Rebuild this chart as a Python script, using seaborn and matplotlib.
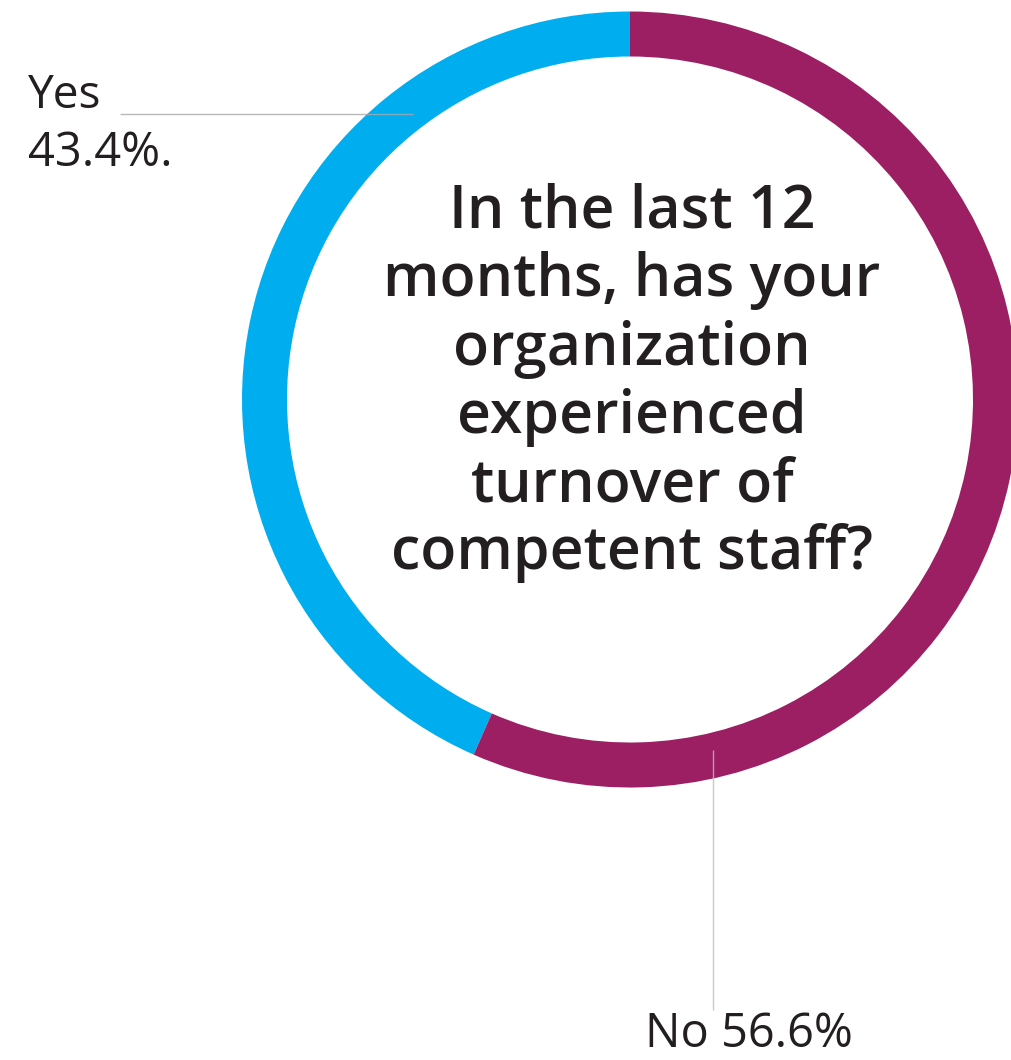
import matplotlib
matplotlib.use("Agg")
import matplotlib.pyplot as plt
import seaborn as sns

# Survey answers
categories = ["Yes", "No"]
shares = [43.4, 56.6]
share_labels = ["43.4%.", "56.6%"]
question_lines = [
    "In the last 12",
    "months, has your",
    "organization",
    "experienced",
    "turnover of",
    "competent staff?",
]

sns.set_theme(style="white")
plt.rcParams["font.family"] = ["Open Sans", "DejaVu Sans"]

palette = ["#00ADEE", "#9B1F62"]
text_color = "#231F20"

W, H, DPI = 1011, 1060, 100
fig = plt.figure(figsize=(W / DPI, H / DPI), dpi=DPI)
ax = fig.add_axes([0, 0, 1, 1])

cx, cy = 630, H - 399.5
r_out, ring = 388, 45

ax.pie(
    shares,
    colors=palette,
    startangle=90,
    counterclock=True,
    center=(cx, cy),
    radius=r_out,
    wedgeprops=dict(width=ring, linewidth=0),
    frame=True,
)
ax.set_xlim(0, W)
ax.set_ylim(0, H)
ax.set_aspect("equal")
ax.axis("off")

def px2pt(px):
    return px * 72 / DPI

# Question in the middle of the ring
baselines = [227, 296, 365, 433, 502, 569]
for line, b in zip(question_lines, baselines):
    ax.text(632, H - b, line, ha="center", va="baseline",
            fontsize=px2pt(59), color=text_color, fontweight="semibold")

# Yes label with leader line
ax.plot([120, 413], [H - 114, H - 114], color="#A8A8A8", lw=1, alpha=0.8,
        solid_capstyle="butt", zorder=5)
ax.text(28, H - 108, categories[0], ha="left", va="baseline",
        fontsize=px2pt(46), color=text_color)
ax.text(28, H - 166, share_labels[0], ha="left", va="baseline",
        fontsize=px2pt(47), color=text_color)

# No label with leader line
ax.plot([713, 713], [H - 750, H - 1010], color="#BDBDBD", lw=1, alpha=0.8,
        solid_capstyle="butt", zorder=5)
ax.text(645, H - 1047, f"{categories[1]} {share_labels[1]}", ha="left",
        va="baseline", fontsize=px2pt(47), color=text_color)

fig.savefig("out.png", dpi=DPI, facecolor="white")
